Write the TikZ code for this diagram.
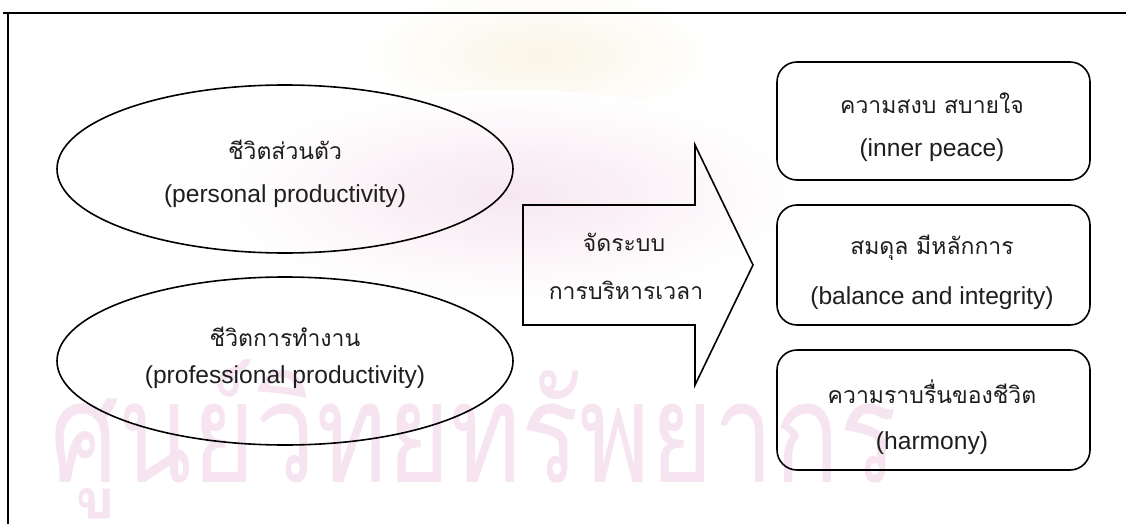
\documentclass[tikz,border=0pt]{standalone}
\usepackage{fontspec}
\setmainfont{Liberation Sans}
\newfontfamily\thaifont[Script=Thai]{Loma}
\usetikzlibrary{positioning}

\definecolor{wmpink}{RGB}{246,229,240}
\definecolor{wmblob}{RGB}{247,231,240}
\definecolor{wmyellow}{RGB}{250,245,230}
\definecolor{txtgray}{RGB}{30,30,30}

\tikzset{
  eng/.style={inner sep=0pt, text=txtgray, font=\fontsize{24.6}{28}\selectfont},
  thai/.style={inner sep=0pt, text=txtgray, font=\thaifont\fontsize{23}{27}\selectfont},
  outline/.style={draw, line width=1.6pt},
  goalbox/.style={outline, rounded corners=20pt}
}

\begin{document}
\begin{tikzpicture}[x=1pt,y=1pt]
\useasboundingbox (0,0) rectangle (1126,-524);
% background watermark
\shade [inner color=wmyellow, outer color=white] (540,-55) ellipse (180 and 70);
\shade [inner color=wmblob, outer color=white] (510,-195) ellipse (290 and 105);
\node [text=wmpink, inner sep=0pt, anchor=base west,
       font=\thaifont\fontsize{140}{140}\selectfont] (wm) at (50,-482)
       {\scalebox{0.77}[1]{ศูนย์วิทยทรัพยากร}};
% frame
\draw [line width=1.8pt] (3,-13) -- (1126,-13);
\draw [line width=1.8pt] (8,-13) -- (8,-524);
% the two sides of life
\draw [outline] (285,-169) ellipse (228 and 84);
\node [thai] (personalth) at (285,-150) {ชีวิตส่วนตัว};
\node [eng] (personalen) at (285,-196) {(personal productivity)};
\draw [outline] (285,-361) ellipse (228 and 84);
\node [thai] (workth) at (285,-337) {ชีวิตการทำงาน};
\node [eng] (worken) at (285,-377) {(professional productivity)};
% the big arrow
\draw [outline] (523,-205) -- (695,-205) -- (695,-145) -- (753,-265)
  -- (695,-385) -- (695,-325) -- (523,-325) -- cycle;
\node [thai] (systemth) at (624,-242) {จัดระบบ};
\node [thai] (timeth) at (626,-290) {การบริหารเวลา};
% results
\draw [goalbox] (777,-62) rectangle (1090,-180);
\node [thai] (peaceth) at (932,-103) {ความสงบ สบายใจ};
\node [eng] (peaceen) at (932,-150) {(inner peace)};
\draw [goalbox] (777,-205) rectangle (1090,-325);
\node [thai] (balanceth) at (932,-248) {สมดุล มีหลักการ};
\node [eng] (balanceen) at (932,-298) {(balance and integrity)};
\draw [goalbox] (777,-350) rectangle (1090,-470);
\node [thai] (harmonyth) at (932,-392) {ความราบรื่นของชีวิต};
\node [eng] (harmonyen) at (932,-443) {(harmony)};
\end{tikzpicture}
\end{document}
